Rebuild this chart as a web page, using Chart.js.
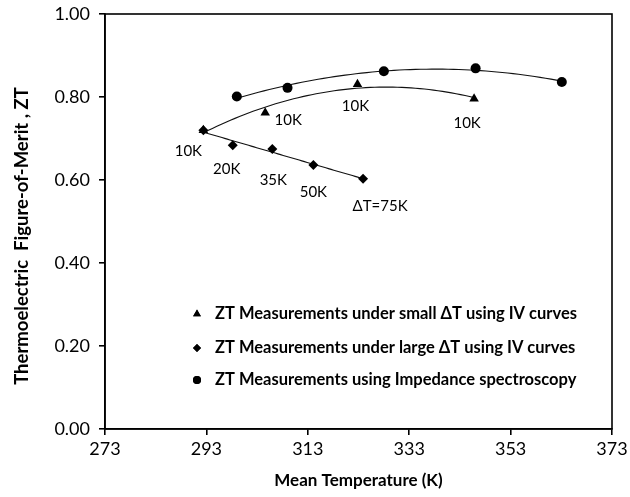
<!DOCTYPE html>
<html>
<head>
<meta charset="utf-8">
<script src="https://cdn.jsdelivr.net/npm/chart.js@4.4.1/dist/chart.umd.min.js"></script>
<style>
  html, body { margin:0; padding:0; background:#fff; }
  #wrap { width:630px; height:497px; position:relative; }
</style>
</head>
<body>
<div id="wrap"><canvas id="ztChart"></canvas></div>
<script>
  // ── DATA ──
  const xTicks = [273, 293, 313, 333, 353, 373];

  const smallDtTemp = [292.4, 304.6, 322.8, 345.8];
  const smallDtZT   = [0.720, 0.762, 0.831, 0.796];
  const smallDtTags = ['', '10K', '10K', '10K'];

  const largeDtTemp = [292.4, 298.2, 306.0, 314.1, 323.9];
  const largeDtZT   = [0.720, 0.684, 0.675, 0.636, 0.603];
  const largeDtTags = ['10K', '20K', '35K', '50K', '\u0394T=75K'];

  const impTemp = [299.0, 309.0, 328.0, 346.1, 363.1];
  const impZT   = [0.801, 0.822, 0.862, 0.869, 0.836];

  const legendNames = [
    'ZT Measurements under small \u0394T using IV curves',
    'ZT Measurements under large \u0394T using IV curves',
    'ZT Measurements using Impedance spectroscopy'
  ];
  const yTitle = 'Thermoelectric  Figure-of-Merit , ZT';

  const FONT = "Lato, 'DejaVu Sans', sans-serif";
  const toXY = (xs, ys) => xs.map((x, i) => ({ x, y: ys[i] }));

  // label offsets in px (style only)
  const smallTagOff = [null, [23, 7], [-2, 22], [-7, 24]];
  const largeTagOff = [[-15, 21], [-6, 24], [1, 31], [0, 27], [17, 27]];

  // least squares polynomial fit (Excel-like trendline)
  function polyFit(xs, ys, deg) {
    const xm = xs.reduce((a, b) => a + b, 0) / xs.length;
    const n = deg + 1;
    const A = Array.from({ length: n }, () => new Array(n + 1).fill(0));
    xs.forEach((x0, k) => {
      const x = x0 - xm;
      for (let i = 0; i < n; i++) {
        for (let j = 0; j < n; j++) A[i][j] += Math.pow(x, i + j);
        A[i][n] += ys[k] * Math.pow(x, i);
      }
    });
    for (let c = 0; c < n; c++) {
      let p = c;
      for (let r = c + 1; r < n; r++) if (Math.abs(A[r][c]) > Math.abs(A[p][c])) p = r;
      [A[c], A[p]] = [A[p], A[c]];
      for (let r = 0; r < n; r++) {
        if (r === c) continue;
        const f = A[r][c] / A[c][c];
        for (let j = c; j <= n; j++) A[r][j] -= f * A[c][j];
      }
    }
    const coef = A.map((row, i) => row[n] / row[i]);
    return x => coef.reduce((s, c, i) => s + c * Math.pow(x - xm, i), 0);
  }

  const trendPlugin = {
    id: 'trend',
    beforeDatasetsDraw(chart) {
      const { ctx, scales: { x, y } } = chart;
      const fits = [
        [smallDtTemp, smallDtZT, 2],
        [largeDtTemp, largeDtZT, 1],
        [impTemp, impZT, 2]
      ];
      ctx.save();
      ctx.strokeStyle = '#111';
      ctx.lineWidth = 1.1;
      fits.forEach(([xs, ys, deg]) => {
        const f = polyFit(xs, ys, deg);
        const x0 = Math.min(...xs), x1 = Math.max(...xs);
        ctx.beginPath();
        for (let i = 0; i <= 60; i++) {
          const v = x0 + (x1 - x0) * i / 60;
          const px = x.getPixelForValue(v), py = y.getPixelForValue(f(v));
          i ? ctx.lineTo(px, py) : ctx.moveTo(px, py);
        }
        ctx.stroke();
      });
      ctx.restore();
    },
    afterDraw(chart) {
      const { ctx, chartArea: a, scales: { x, y } } = chart;
      ctx.save();
      // box
      ctx.strokeStyle = '#000';
      ctx.lineWidth = 1.6;
      ctx.strokeRect(a.left, a.top, a.right - a.left, a.bottom - a.top);

      ctx.fillStyle = '#000';
      ctx.textBaseline = 'middle';

      // y title (sits a bit below the plot centre, like the original)
      ctx.save();
      ctx.translate(22, 236);
      ctx.rotate(-Math.PI / 2);
      ctx.font = 'bold 18.5px ' + FONT;
      ctx.textAlign = 'center';
      ctx.fillText(yTitle, 0, 0);
      ctx.restore();

      // point tags
      ctx.font = '15px ' + FONT;
      ctx.textAlign = 'center';
      smallDtTags.forEach((t, i) => {
        if (!t) return;
        const o = smallTagOff[i];
        ctx.fillText(t, x.getPixelForValue(smallDtTemp[i]) + o[0], y.getPixelForValue(smallDtZT[i]) + o[1]);
      });
      largeDtTags.forEach((t, i) => {
        const o = largeTagOff[i];
        ctx.fillText(t, x.getPixelForValue(largeDtTemp[i]) + o[0], y.getPixelForValue(largeDtZT[i]) + o[1]);
      });

      // legend inside plot
      const styles = [['triangle', 4.5], ['rectRot', 4], ['circle', 4]];
      const rows = [314, 348, 380];
      ctx.font = 'bold 16.5px ' + FONT;
      ctx.textAlign = 'left';
      legendNames.forEach((name, i) => {
        Chart.helpers.drawPoint(ctx, { pointStyle: styles[i][0], radius: styles[i][1], borderWidth: 0 }, 197, rows[i]);
        ctx.fill();
        ctx.fillText(name, 215, rows[i]);
      });
      ctx.restore();
    }
  };

  const pt = (style, r) => ({
    showLine: false, pointStyle: style, pointRadius: r, pointHoverRadius: r,
    backgroundColor: '#000', borderColor: '#000', borderWidth: 0
  });

  const noPad = s => { s.paddingTop = 0; s.paddingBottom = 0; s.paddingLeft = 0; s.paddingRight = 0; };

  new Chart(document.getElementById('ztChart').getContext('2d'), {
    type: 'scatter',
    data: {
      datasets: [
        { label: legendNames[1], data: toXY(largeDtTemp, largeDtZT), ...pt('rectRot', 5) },
        { label: legendNames[2], data: toXY(impTemp, impZT), ...pt('circle', 5) },
        { label: legendNames[0], data: toXY(smallDtTemp, smallDtZT), ...pt('triangle', 5.5) }
      ]
    },
    options: {
      responsive: true, maintainAspectRatio: false, animation: false,
      layout: { padding: { left: 0, right: 18, top: 14, bottom: 0 } },
      plugins: { legend: { display: false }, tooltip: { enabled: false } },
      scales: {
        x: {
          type: 'linear', min: 273, max: 373,
          afterBuildTicks: s => { s.ticks = xTicks.map(v => ({ value: v })); },
          afterFit: s => { s.height = 68; noPad(s); },
          grid: { drawOnChartArea: false, color: '#000', lineWidth: 1.6, tickLength: 6 },
          border: { color: '#000', width: 1.6 },
          ticks: { color: '#000', font: { family: FONT, size: 18 }, padding: 3, maxRotation: 0 },
          title: { display: true, text: 'Mean Temperature (K)', color: '#000',
                   font: { family: FONT, size: 17, weight: 'bold' }, padding: { top: 0, bottom: 6 } }
        },
        y: {
          min: 0, max: 1,
          ticks: { stepSize: 0.2, color: '#000', font: { family: FONT, size: 18 }, padding: 9,
                   callback: v => v.toFixed(2) },
          afterFit: s => { s.width = 105; noPad(s); },
          grid: { drawOnChartArea: false, color: '#000', lineWidth: 1.6, tickLength: 6 },
          border: { color: '#000', width: 1.6 },
          title: { display: false }
        }
      }
    },
    plugins: [trendPlugin]
  });
</script>
</body>
</html>
